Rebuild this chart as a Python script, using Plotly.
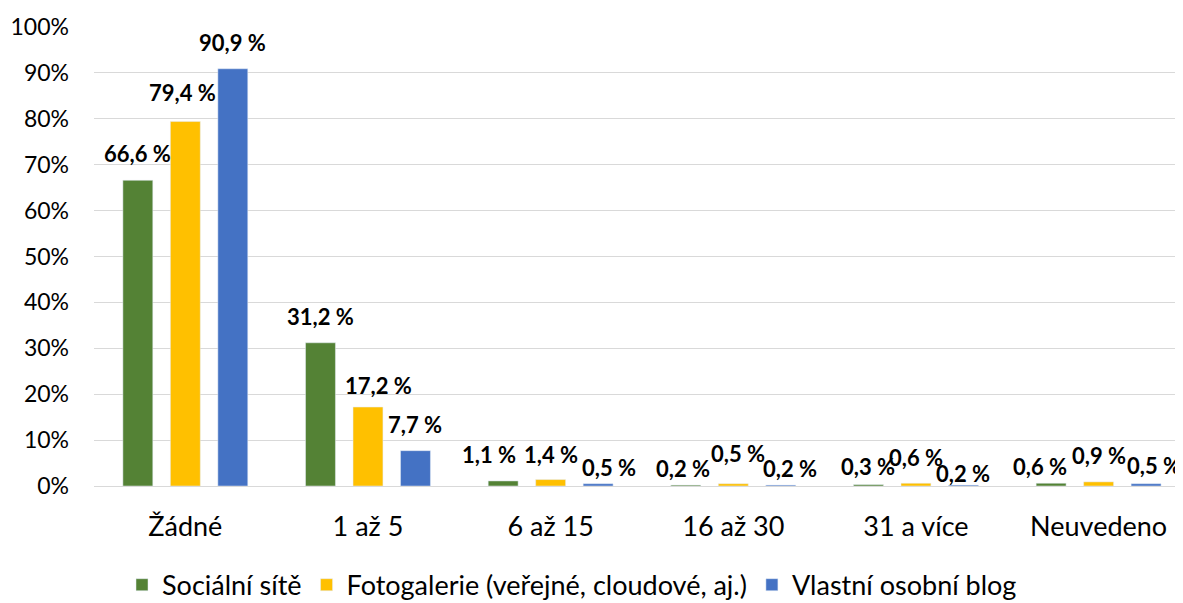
"""Grouped bar chart: počet platforem podle typu sdílení."""
import plotly.graph_objects as go

categories = ["Žádné", "1 až 5", "6 až 15", "16 až 30", "31 a více", "Neuvedeno"]
series_names = [
    "Sociální sítě",
    "Fotogalerie (veřejné, cloudové, aj.)",
    "Vlastní osobní blog",
]
socialni_site = [66.6, 31.2, 1.1, 0.2, 0.3, 0.6]
fotogalerie = [79.4, 17.2, 1.4, 0.5, 0.6, 0.9]
vlastni_blog = [90.9, 7.7, 0.5, 0.2, 0.2, 0.5]
y_ticks = [0, 10, 20, 30, 40, 50, 60, 70, 80, 90, 100]

colors = ["#548235", "#FFC000", "#4472C4"]

# label nudges (px) mimicking Excel's overlap avoidance: (xshift, yshift) per bar
label_shifts = [
    [(0, 27), (0, 26), (-14, 26), (-3, 17), (0, 18), (-11, 17)],
    [(-3, 29), (11, 22), (0, 25), (5, 30), (0, 26), (0, 26)],
    [(0, 26), (0, 26), (11, 16), (9, 17), (0, 12), (8, 18)],
]

FONT = "Lato"
values = [socialni_site, fotogalerie, vlastni_blog]
bar_offsets = [-47.5, 0, 47.5]

fig = go.Figure()
for name, vals, color in zip(series_names, values, colors):
    fig.add_trace(go.Bar(name=name, x=categories, y=vals, marker_color=color))

for s, vals in enumerate(values):
    for i, v in enumerate(vals):
        dx, dy = label_shifts[s][i]
        fig.add_annotation(
            x=categories[i],
            y=v,
            text=f"{v:.1f} %".replace(".", ","),
            showarrow=False,
            xshift=bar_offsets[s] + dx,
            yshift=dy,
            font=dict(family=FONT, size=22, color="#000000", weight="bold"),
        )

# the page body has an 8px margin, so the figure is 8px smaller than the window
fig.update_layout(
    width=1175,
    height=595,
    margin=dict(l=86, r=0, t=19, b=117, autoexpand=False),
    paper_bgcolor="white",
    plot_bgcolor="white",
    barmode="group",
    bargap=0.22,
    bargroupgap=0.37,
    font=dict(family=FONT, size=22, color="#000000"),
    legend=dict(
        orientation="h",
        xref="container",
        x=0.48,
        xanchor="center",
        y=0.03,
        yref="container",
        yanchor="middle",
        font=dict(family=FONT, size=27),
        itemwidth=30,
        traceorder="normal",
    ),
)
fig.update_xaxes(
    range=[-0.5, 5.462],
    showgrid=False,
    showline=False,
    tickfont=dict(family=FONT, size=27),
    ticklabelstandoff=22,
)
fig.update_yaxes(
    range=[0, 100],
    tickvals=y_ticks,
    ticktext=[f"{t}%" for t in y_ticks],
    showgrid=True,
    gridcolor="#D9D9D9",
    gridwidth=1,
    zeroline=True,
    zerolinecolor="#D9D9D9",
    zerolinewidth=1,
    tickfont=dict(family=FONT, size=23),
    ticklabelstandoff=24,
)

fig.write_html("out.html")
